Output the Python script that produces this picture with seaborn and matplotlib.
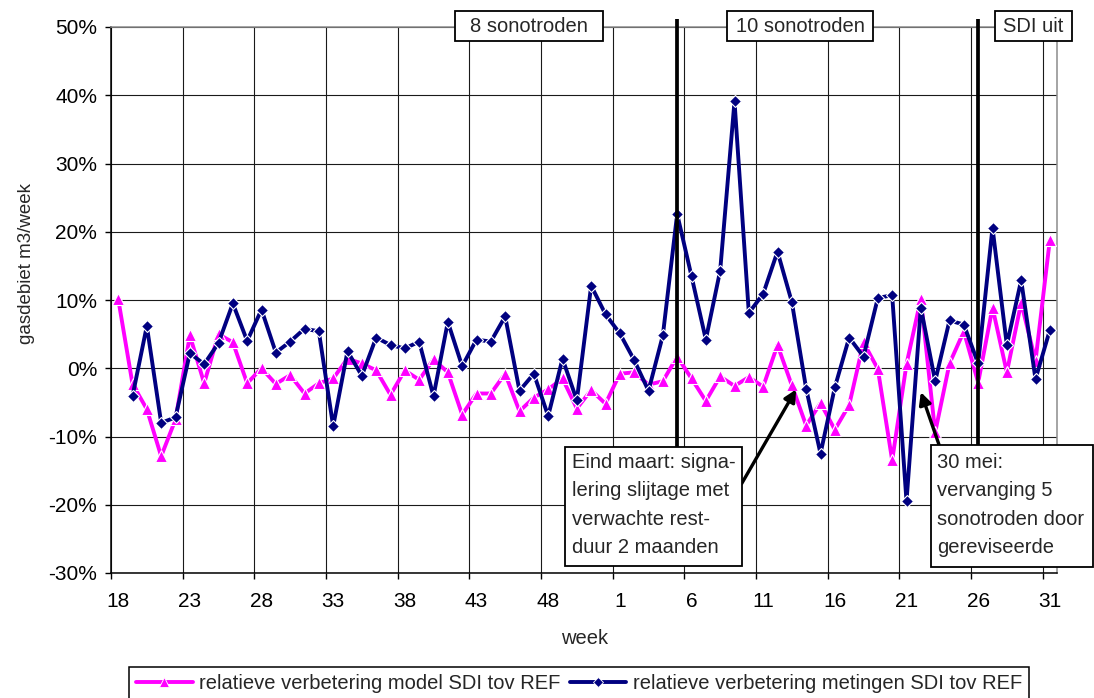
import numpy as np
import pandas as pd
import matplotlib
matplotlib.use("Agg")
import matplotlib.pyplot as plt
import seaborn as sns
from matplotlib.patches import Rectangle
from matplotlib.lines import Line2D

# Week numbers: week 18 to 52, then week 1 to 31 of the following year
weeks = list(range(18, 53)) + list(range(1, 32))

# Relative improvement (%) of SDI vs REF per week
model = [10.2, -2.3, -6.0, -12.9, -7.5, 4.8, -2.2, 5.0, 3.8, -2.2,
         0.0, -2.3, -1.0, -3.7, -2.2, -1.5, 1.4, 0.7, -0.3, -3.9,
         -0.3, -1.7, 1.3, -0.6, -6.8, -3.7, -3.7, -0.8, -6.3, -4.3,
         -3.1, -1.5, -5.9, -3.2, -5.2, -0.8, -0.6, -2.4, -1.9, 1.7,
         -1.5, -4.8, -1.2, -2.6, -1.3, -2.7, 3.4, -2.5, -8.4, -5.1,
         -9.0, -5.4, 3.8, -0.1, -13.5, 0.6, 10.2, -9.4, 0.7, 5.4,
         -2.1, 8.9, -0.6, 9.6, 1.1, 18.8]
metingen = [np.nan, -4.1, 6.2, -8.0, -7.2, 2.2, 0.6, 3.7, 9.5, 4.0,
            8.6, 2.3, 3.9, 5.8, 5.4, -8.5, 2.5, -1.1, 4.5, 3.4,
            2.9, 3.9, -4.1, 6.8, 0.3, 4.2, 3.9, 7.6, -3.3, -0.8,
            -7.0, 1.4, -4.7, 12.1, 7.9, 5.1, 1.2, -3.3, 4.8, 22.6,
            13.5, 4.2, 14.3, 39.1, 8.1, 10.9, 17.1, 9.7, -3.0, -12.5,
            -2.8, 4.5, 1.7, 10.3, 10.7, -19.5, 8.9, -1.9, 7.0, 6.4,
            0.7, 20.6, 3.4, 12.9, -1.6, 5.6]

label_model = "relatieve verbetering model SDI tov REF"
label_meting = "relatieve verbetering metingen SDI tov REF"

# Positions (category index) of the phase changes: week 5 and week 26 of the second year
change_idx = [35 + 4, 35 + 25]

PINK = "#FF00FF"
NAVY = "#000080"

sns.set_theme(style="white")
plt.rcParams["font.family"] = ["Liberation Sans", "DejaVu Sans"]

W, H = 1094, 698
fig = plt.figure(figsize=(W / 100, H / 100), dpi=100)


def fx(px):
    return px / W


def fy(py):
    return 1 - py / H


ax = fig.add_axes([fx(111), fy(573), (1057 - 111) / W, (573 - 27) / H])

df = pd.DataFrame({"idx": np.arange(len(weeks)), "week": weeks,
                   "model": model, "metingen": metingen})

sns.lineplot(data=df, x="idx", y="model", ax=ax, color=PINK, linewidth=2.8,
             marker="^", markersize=8, markeredgecolor="white",
             markeredgewidth=0.8, zorder=4, legend=False)
sns.lineplot(data=df.dropna(), x="idx", y="metingen", ax=ax, color=NAVY,
             linewidth=2.8, marker="D", markersize=6, markeredgecolor="white",
             markeredgewidth=0.8, zorder=4, legend=False)

# Axes ranges, ticks and grid
ax.set_xlim(-0.5, len(weeks) - 0.5)
ax.set_ylim(-30, 50)
yt = list(range(-30, 51, 10))
ax.set_yticks(yt, [f"{v}%" for v in yt])

bounds = np.arange(-0.5, len(weeks) - 1, 5)
ax.set_xticks(bounds, [""] * len(bounds))
centers = np.arange(0, len(weeks), 5)
ax.set_xticks(centers, [str(weeks[i]) for i in centers], minor=True)

ax.tick_params(axis="x", which="major", direction="out", length=4.5,
               width=1, color="black", bottom=True)
ax.tick_params(axis="x", which="minor", length=0, pad=14, labelsize=15,
               labelcolor="black")
ax.tick_params(axis="y", direction="out", length=4, width=1, color="black",
               left=True, pad=6, labelsize=15, labelcolor="black")

ax.grid(True, which="major", axis="both", color="#1a1a1a", linewidth=0.8)
ax.set_axisbelow(True)
for side in ["left", "bottom"]:
    ax.spines[side].set_color("black")
    ax.spines[side].set_linewidth(1.1)
for side in ["top", "right"]:
    ax.spines[side].set_color("#8c8c8c")
    ax.spines[side].set_linewidth(1.1)
ax.set_xlabel("")
ax.set_ylabel("")

# Phase-change lines
for ci in change_idx:
    ax.plot([ci, ci], [-11.5, 51.2], color="black", linewidth=2.7,
            clip_on=False, zorder=5, solid_capstyle="butt")

# Arrows pointing to the events
ax.annotate("", xy=(47.3, -3.1), xytext=(43.5, -16.9),
            arrowprops=dict(arrowstyle="-|>", color="black", lw=2.4,
                            mutation_scale=18, shrinkA=0, shrinkB=0),
            zorder=6, annotation_clip=False)
ax.annotate("", xy=(56.0, -3.5), xytext=(57.3, -11.4),
            arrowprops=dict(arrowstyle="-|>", color="black", lw=2.4,
                            mutation_scale=18, shrinkA=0, shrinkB=0),
            zorder=6, annotation_clip=False)

fig.text(fx(585), fy(638), "week", ha="center", va="center", fontsize=14.5)
fig.text(fx(27), fy(263), "gasdebiet m3/week", ha="center", va="center",
         rotation=90, fontsize=13.5)


def box(x0, y0, x1, y1):
    fig.add_artist(Rectangle((fx(x0), fy(y1)), (x1 - x0) / W, (y1 - y0) / H,
                             transform=fig.transFigure, facecolor="white",
                             edgecolor="black", linewidth=1.3, zorder=10))


# Phase headers
for (x0, x1, txt) in [(455, 603, "8 sonotroden"), (727, 873, "10 sonotroden"),
                      (995, 1072, "SDI uit")]:
    box(x0, 11, x1, 41)
    fig.text(fx((x0 + x1) / 2), fy(26.5), txt, ha="center", va="center",
             fontsize=14.5, zorder=11)

# Event notes
note1 = ["Eind maart: signa-", "lering slijtage met", "verwachte rest-",
         "duur 2 maanden"]
note2 = ["30 mei:", "vervanging 5", "sonotroden door", "gereviseerde"]
line_y = [462, 491, 519.5, 547.5]

box(565, 447, 742, 566)
for t, yy in zip(note1, line_y):
    fig.text(fx(572), fy(yy), t, ha="left", va="center", fontsize=14.5, zorder=11)
box(931, 445, 1093, 567)
for t, yy in zip(note2, line_y):
    fig.text(fx(937), fy(yy), t, ha="left", va="center", fontsize=14.5, zorder=11)

# Legend
handles = [Line2D([0], [0], color=PINK, lw=2.8, marker="^", markersize=6.5,
                  markeredgecolor="white", markeredgewidth=0.6),
           Line2D([0], [0], color=NAVY, lw=2.8, marker="D", markersize=5,
                  markeredgecolor="white", markeredgewidth=0.6)]
leg = fig.legend(handles, [label_model, label_meting], loc="upper center",
                 bbox_to_anchor=(fx(579), fy(667)), ncol=2, frameon=True,
                 fancybox=False, edgecolor="black", framealpha=1, fontsize=14.5,
                 handlelength=2.8, handletextpad=0.3, columnspacing=0.5,
                 borderpad=0.35, borderaxespad=0)
leg.get_frame().set_linewidth(1.1)

fig.savefig("out.png", dpi=100)
